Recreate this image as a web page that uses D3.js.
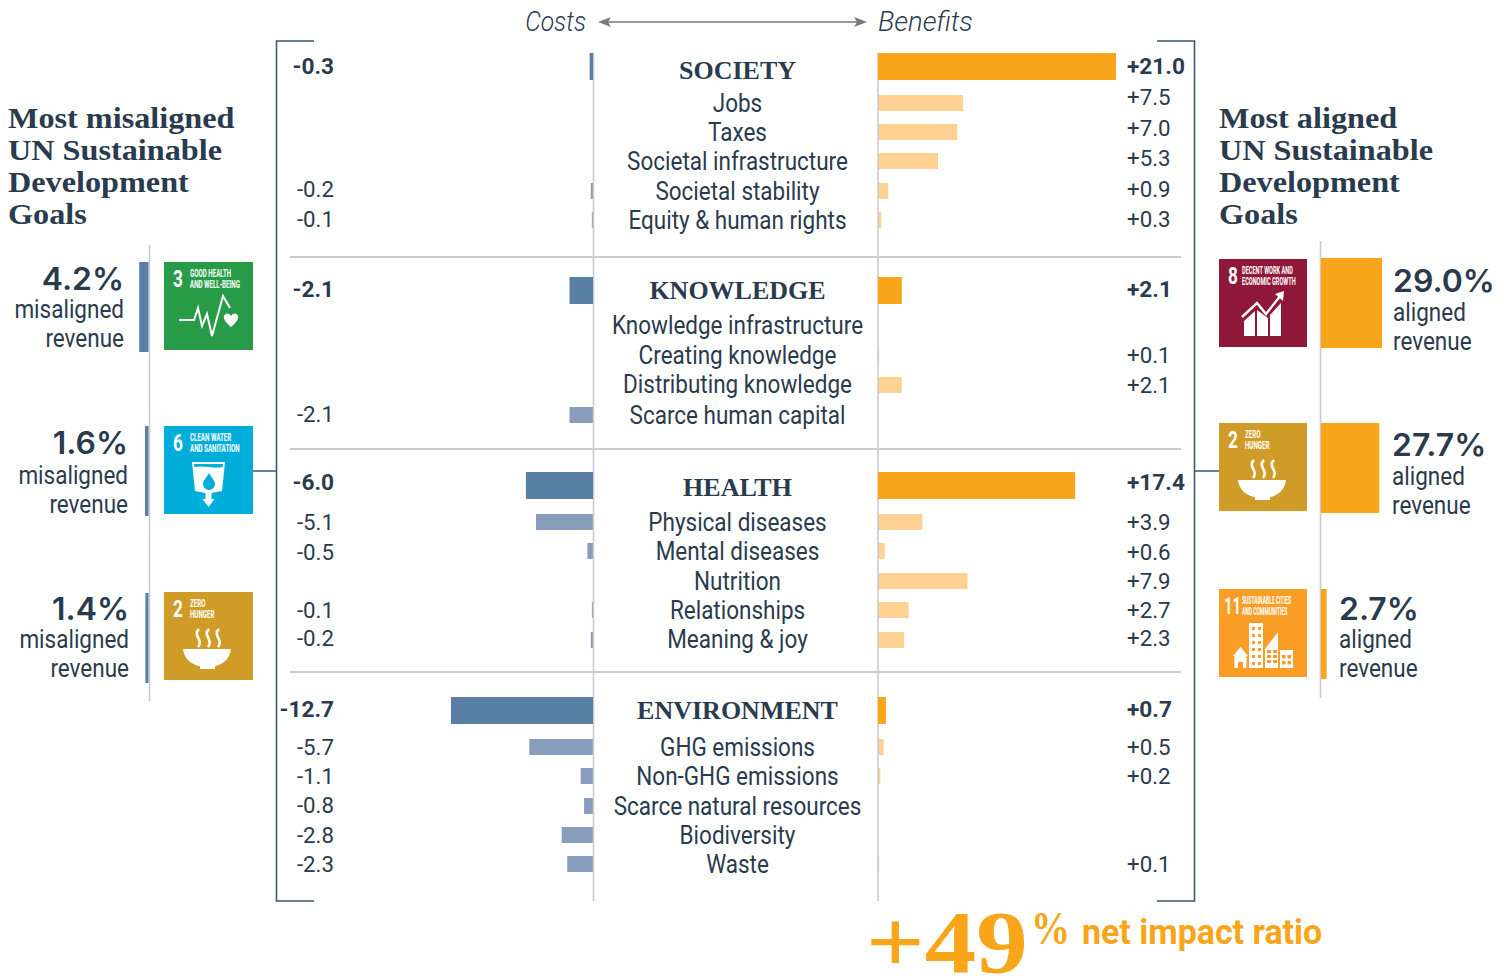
<!DOCTYPE html>
<html>
<head>
<meta charset="utf-8">
<script src="https://cdnjs.cloudflare.com/ajax/libs/d3/7.8.5/d3.min.js"></script>
<style>
  html, body { margin: 0; padding: 0; background: #fff; }
  svg { display: block; }
</style>
</head>
<body>
<svg id="chart" width="1507" height="976"></svg>
<script>
// Values
const sections = ["SOCIETY", "KNOWLEDGE", "HEALTH", "ENVIRONMENT"];
const sectionCosts = [-0.3, -2.1, -6.0, -12.7];
const sectionBenefits = [21.0, 2.1, 17.4, 0.7];

const rowNames = ["Jobs", "Taxes", "Societal infrastructure", "Societal stability", "Equity & human rights",
    "Knowledge infrastructure", "Creating knowledge", "Distributing knowledge", "Scarce human capital",
    "Physical diseases", "Mental diseases", "Nutrition", "Relationships", "Meaning & joy",
    "GHG emissions", "Non-GHG emissions", "Scarce natural resources", "Biodiversity", "Waste"];
const rowCosts = [null, null, null, -0.2, -0.1,
    null, null, null, -2.1,
    -5.1, -0.5, null, -0.1, -0.2,
    -5.7, -1.1, -0.8, -2.8, -2.3];
const rowBenefits = [7.5, 7.0, 5.3, 0.9, 0.3,
    null, 0.1, 2.1, null,
    3.9, 0.6, 7.9, 2.7, 2.3,
    0.5, 0.2, null, null, 0.1];

const misalignedGoals = ["3", "6", "2"];
const misalignedShares = [4.2, 1.6, 1.4];
const alignedGoals = ["8", "2", "11"];
const alignedShares = [29.0, 27.7, 2.7];

const goalTitles = {
    "2": ["ZERO", "HUNGER"],
    "3": ["GOOD HEALTH", "AND WELL-BEING"],
    "6": ["CLEAN WATER", "AND SANITATION"],
    "8": ["DECENT WORK AND", "ECONOMIC GROWTH"],
    "11": ["SUSTAINABLE CITIES", "AND COMMUNITIES"]
};
const goalColors = { "2": "#cf9d27", "3": "#279b48", "6": "#00aed9", "8": "#8f1838", "11": "#fa9d26" };

// Vertical layout, kept apart from the values
const sectionBarTops = [53, 277, 472, 697];
const sectionTitleBase = [79, 299, 496, 719];
const sectionValueBase = [74, 297, 490, 717];
const rowBarTops = [95, 124, 153, 183, 212, 318, 348, 377, 407, 514, 543, 573, 602, 632, 739, 768, 798, 827, 856];
const rowLabelBase = [112, 141, 170, 200, 229, 334, 364, 393, 424, 531, 560, 590, 619, 648, 756, 785, 815, 844, 873];
const rowCostBase = [0, 0, 0, 197, 227, 0, 0, 0, 422, 530, 560, 0, 618, 646, 755, 784, 813, 843, 872];
const rowBenefitBase = [105, 136, 166, 197, 227, 0, 363, 393, 0, 530, 560, 589, 618, 646, 755, 784, 0, 0, 872];
const separators = [257, 449, 672];

const costAxis = 593, benefitAxis = 878;
const ink = "#2a3b4e", rule = "#c9cbcd", frame = "#41566b";
const sansFont = "Roboto, sans-serif", serifFont = "'Liberation Serif', serif";
const orange = "#f9a51a", paleOrange = "#ffd192", blue = "#5a7fa5", paleBlue = "#889dbb";

const svg = d3.select("#chart");

const barScale = d3.scaleLinear().domain([0, 21]).range([0, 238]);
const costScale = d3.scaleLinear().domain([0, 12.7]).range([0, 142]);
const shareScale = d3.scaleLinear().domain([0, 29]).range([0, 61]);

// horizontally squeezed text, the original face is a condensed one
function label(parent, x, y, str, opts) {
    const o = Object.assign({ size: 25, k: 0.9, anchor: "start", weight: 400, fill: ink, font: sansFont, style: "normal" }, opts);
    return parent.append("text")
        .attr("transform", `translate(${x},${y}) scale(${o.k},1)`)
        .attr("text-anchor", o.anchor)
        .attr("font-family", o.font)
        .attr("font-size", o.size)
        .attr("font-weight", o.weight)
        .attr("font-style", o.style)
        .attr("fill", o.fill)
        .text(str);
}

const fmtCost = d => d.toFixed(1);
const fmtBenefit = d => "+" + d.toFixed(1);

// thin row bars go under the two axes, section bars on top of them
const rows = rowNames.map((name, i) => ({ name, cost: rowCosts[i], benefit: rowBenefits[i], i }));
svg.selectAll(".row-cost").data(rows.filter(d => d.cost !== null)).enter().append("rect")
    .attr("class", "row-cost")
    .attr("x", d => costAxis - costScale(-d.cost))
    .attr("y", d => rowBarTops[d.i])
    .attr("width", d => costScale(-d.cost))
    .attr("height", 16)
    .attr("fill", paleBlue);
svg.selectAll(".row-benefit").data(rows.filter(d => d.benefit !== null)).enter().append("rect")
    .attr("class", "row-benefit")
    .attr("x", benefitAxis)
    .attr("y", d => rowBarTops[d.i])
    .attr("width", d => barScale(d.benefit))
    .attr("height", 16)
    .attr("fill", paleOrange);

[costAxis + 0.5, benefitAxis].forEach(x => {
    svg.append("line").attr("x1", x).attr("x2", x).attr("y1", 53).attr("y2", 901)
        .attr("stroke", rule).attr("stroke-width", 1.6);
});
separators.forEach(y => {
    svg.append("line").attr("x1", 290).attr("x2", 1181).attr("y1", y).attr("y2", y)
        .attr("stroke", rule).attr("stroke-width", 2);
});

sections.forEach((name, i) => {
    const c = costScale(-sectionCosts[i]), b = barScale(sectionBenefits[i]);
    svg.append("rect").attr("x", costAxis - c).attr("y", sectionBarTops[i]).attr("width", c).attr("height", 27).attr("fill", blue);
    svg.append("rect").attr("x", benefitAxis).attr("y", sectionBarTops[i]).attr("width", b).attr("height", 27).attr("fill", orange);
    label(svg, 737.5, sectionTitleBase[i], name, { font: serifFont, size: 26, weight: 700, anchor: "middle", k: 1 });
    label(svg, 334, sectionValueBase[i], fmtCost(sectionCosts[i]), { weight: 700, anchor: "end", size: 22, k: 1.03 });
    label(svg, 1127, sectionValueBase[i], fmtBenefit(sectionBenefits[i]), { weight: 700, size: 22, k: 1.03 });
});

rows.forEach(d => {
    label(svg, 737.5, rowLabelBase[d.i], d.name, { anchor: "middle" });
    if (d.cost !== null) label(svg, 334, rowCostBase[d.i], fmtCost(d.cost), { anchor: "end", size: 23, k: 0.97 });
    if (d.benefit !== null) label(svg, 1127, rowBenefitBase[d.i], fmtBenefit(d.benefit), { size: 23, k: 0.97 });
});

// bracket round the table
const bracket = d3.path();
bracket.moveTo(314, 41); bracket.lineTo(276.5, 41); bracket.lineTo(276.5, 901); bracket.lineTo(314, 901);
bracket.moveTo(1157, 41); bracket.lineTo(1194.5, 41); bracket.lineTo(1194.5, 901); bracket.lineTo(1157, 901);
bracket.moveTo(253, 471); bracket.lineTo(276, 471);
bracket.moveTo(1195, 471); bracket.lineTo(1219, 471);
svg.append("path").attr("d", bracket.toString()).attr("fill", "none").attr("stroke", frame).attr("stroke-width", 1.6);

// costs / benefits heading
label(svg, 586, 31, "Costs", { anchor: "end", style: "italic", size: 28, k: 0.88, weight: 300 });
label(svg, 878, 31, "Benefits", { style: "italic", size: 28, k: 0.98, weight: 300 });
const arrowColor = "#77797c";
svg.append("line").attr("x1", 602).attr("x2", 864).attr("y1", 22).attr("y2", 22).attr("stroke", arrowColor).attr("stroke-width", 1.4);
svg.append("path").attr("d", "M598,22 L611,17 L608,22 L611,27 Z").attr("fill", arrowColor);
svg.append("path").attr("d", "M867,22 L854,17 L857,22 L854,27 Z").attr("fill", arrowColor);

// side headings
function heading(x, lines) {
    lines.forEach((t, i) => label(svg, x, 128 + i * 32, t, { font: serifFont, size: 30, weight: 700, k: 1.075 }));
}
heading(8, ["Most misaligned", "UN Sustainable", "Development", "Goals"]);
heading(1219, ["Most aligned", "UN Sustainable", "Development", "Goals"]);

// goal tiles: plain shapes in a tile-local 88 x 88 box
const icons = {
    "3": g => {
        g.append("path").attr("d", "M15,58 L30,58 L34,46 L38,64 L43,52 L48,74 L59,34 L66,46")
            .attr("fill", "none").attr("stroke", "#fff").attr("stroke-width", 2);
        g.append("path").attr("d", "M67,65 C60,59 59.5,56 60,54 C61,50.5 65.5,50.5 67,54 C68.5,50.5 73,50.5 74,54 C74.5,56 74,59 67,65 Z").attr("fill", "#fff");
    },
    "6": g => {
        g.append("path").attr("d", "M28,36 L61,36 L58,65 L47.5,67 L47.5,73 L50.5,73 L44.5,81 L38.5,73 L41.5,73 L41.5,67 L31,65 Z").attr("fill", "#fff");
        g.append("path").attr("d", "M30,38 L59,38 L58.7,41 C50,43 40,39 30.3,41 Z").attr("fill", "#00aed9");
        g.append("path").attr("d", "M45,47 C42,52 39,55 39,58 A6,6 0 0 0 51,58 C51,55 48,52 45,47 Z").attr("fill", "#00aed9");
    },
    "2": g => {
        g.append("path").attr("d", "M19,57 L67,57 C66,67 58,73 51,74 L51,77 L36,77 L36,74 C28,73 20,67 19,57 Z").attr("fill", "#fff");
        [34, 44, 54].forEach(x => {
            g.append("path").attr("d", `M${x + 1},37 C${x - 6},43 ${x + 6},48 ${x},55`)
                .attr("fill", "none").attr("stroke", "#fff").attr("stroke-width", 2.6);
        });
    },
    "8": g => {
        g.append("path").attr("d", "M25,77 L25,62 L36,52 L36,77 Z M38,77 L38,51 L49,59 L49,77 Z M51,77 L51,56 L62,44 L62,77 Z").attr("fill", "#fff");
        g.append("path").attr("d", "M23,58 L38,44 L47,55 L62,36")
            .attr("fill", "none").attr("stroke", "#fff").attr("stroke-width", 2.4);
        g.append("path").attr("d", "M65,32 L64,42 L56,35 Z").attr("fill", "#fff");
    },
    "11": g => {
        g.append("path").attr("d", "M14,67 L21.5,58 L29,67 L27.5,67 L27.5,79 L24,79 L24,73 L19,73 L19,79 L15.5,79 L15.5,67 Z").attr("fill", "#fff");
        g.append("rect").attr("x", 30).attr("y", 34).attr("width", 14).attr("height", 45).attr("fill", "#fff");
        d3.range(38, 76, 7).forEach(y => {
            [33, 39].forEach(x => {
                g.append("rect").attr("x", x).attr("y", y).attr("width", 3).attr("height", 3).attr("fill", "#fa9d26");
            });
        });
        g.append("path").attr("d", "M46,79 L46,60 L59,43 L59,79 Z").attr("fill", "#fff");
        d3.range(61, 76, 5).forEach(y => {
            [48, 54].forEach(x => {
                g.append("rect").attr("x", x).attr("y", y).attr("width", 4).attr("height", 3).attr("fill", "#fa9d26");
            });
        });
        g.append("rect").attr("x", 61).attr("y", 61).attr("width", 13).attr("height", 18).attr("fill", "#fff");
        [66, 72].forEach(y => {
            [63, 68.5].forEach(x => {
                g.append("rect").attr("x", x).attr("y", y).attr("width", 3.5).attr("height", 3.5).attr("fill", "#fa9d26");
            });
        });
    }
};

function tile(x, y, goal, w) {
    const g = svg.append("g").attr("transform", `translate(${x},${y})`);
    g.append("rect").attr("width", w).attr("height", 88).attr("fill", goalColors[goal]);
    label(g, goal === "11" ? 5 : 9, 25, goal, { size: 24, weight: 700, fill: "#fff", k: goal === "11" ? 0.62 : 0.72 });
    const titleX = (goal === "8" || goal === "11") ? 23 : 26;
    const titleK = goal === "8" ? 0.56 : goal === "11" ? 0.5 : 0.62;
    goalTitles[goal].forEach((t, i) => {
        label(g, titleX, 15 + i * 10.5, t, { size: 10, weight: 700, fill: "#fff", k: titleK });
    });
    icons[goal](g);
}

// left column
const leftTiles = [262, 426, 592];
const leftBarTops = [262, 426, 593];
const leftTextX = [124, 128, 129];
const leftBase = [[290, 318, 347], [454, 484, 513], [620, 648, 677]];
svg.append("line").attr("x1", 149.5).attr("x2", 149.5).attr("y1", 245).attr("y2", 701).attr("stroke", rule).attr("stroke-width", 1.6);
misalignedShares.forEach((v, i) => {
    const w = shareScale(v) * 1.05;
    svg.append("rect").attr("x", 148.5 - w).attr("y", leftBarTops[i]).attr("width", w).attr("height", 90).attr("fill", blue);
    tile(164, leftTiles[i], misalignedGoals[i], 89);
    label(svg, leftTextX[i], leftBase[i][0], v.toFixed(1) + "%", { font: "Inter, sans-serif", size: 31, weight: 600, anchor: "end", k: 1.03 });
    label(svg, leftTextX[i], leftBase[i][1], "misaligned", { anchor: "end", size: 25, k: 0.9 });
    label(svg, leftTextX[i], leftBase[i][2], "revenue", { anchor: "end", size: 25, k: 0.9 });
});

// right column
const rightTiles = [259, 423, 589];
const rightBarTops = [258, 423, 589];
const rightTextX = [1393, 1392, 1339];
const rightBase = [[292, 321, 350], [456, 485, 514], [620, 648, 677]];
svg.append("line").attr("x1", 1320.5).attr("x2", 1320.5).attr("y1", 241).attr("y2", 698).attr("stroke", rule).attr("stroke-width", 1.6);
alignedShares.forEach((v, i) => {
    svg.append("rect").attr("x", 1321).attr("y", rightBarTops[i]).attr("width", shareScale(v)).attr("height", 90).attr("fill", orange);
    tile(1219, rightTiles[i], alignedGoals[i], 88);
    label(svg, rightTextX[i], rightBase[i][0], v.toFixed(1) + "%", { font: "Inter, sans-serif", size: 31, weight: 600, k: 1.03 });
    label(svg, rightTextX[i], rightBase[i][1], "aligned", { size: 25, k: 0.9 });
    label(svg, rightTextX[i], rightBase[i][2], "revenue", { size: 25, k: 0.9 });
});

// net impact ratio
const netImpact = 49;
label(svg, 866, 972, "+" + netImpact, { font: serifFont, size: 88, weight: 700, fill: orange, k: 1.17 });
label(svg, 1031, 944, "%", { font: serifFont, size: 46, weight: 700, fill: orange, k: 0.85 });
label(svg, 1082, 944, "net impact ratio", { size: 35, weight: 700, fill: orange, k: 0.97 });
</script>
</body>
</html>
